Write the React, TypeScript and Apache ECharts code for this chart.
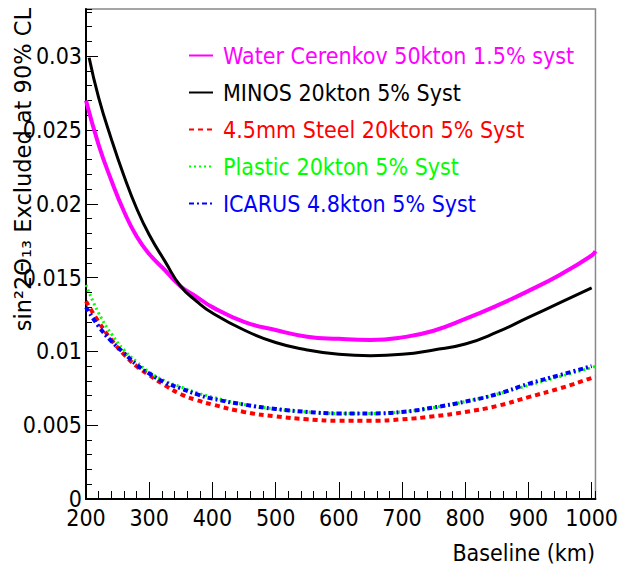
import React, { useEffect, useRef } from "react";
import * as echarts from "echarts";

// Baseline grid (km)
const baselineKm = [200, 220, 240, 260, 280, 300, 325, 350, 375, 400, 450, 500, 550, 600, 650, 700, 750, 800, 850, 900, 950, 1000];
const edgeKm = 1006;
const waterKm = [...baselineKm, edgeKm];
const minosKm = [205, ...baselineKm.slice(1)];
const steelKm = [...baselineKm, edgeKm];
const plasticKm = [...baselineKm, edgeKm];
const icarusKm = [...baselineKm];

const waterVals = [0.0270, 0.0240, 0.0216, 0.0195, 0.0178, 0.0166, 0.0155, 0.0144, 0.0137, 0.0130, 0.0120, 0.01145, 0.0110, 0.01085, 0.01078, 0.01095, 0.0114, 0.0122, 0.0131, 0.0141, 0.0152, 0.0165, 0.0168];
const minosVals = [0.0299, 0.0272, 0.0244, 0.0219, 0.0197, 0.0179, 0.0161, 0.0144, 0.0134, 0.0126, 0.01145, 0.0106, 0.0101, 0.0098, 0.0097, 0.0098, 0.0101, 0.0105, 0.0113, 0.0123, 0.0133, 0.0143];
const steelVals = [0.0134, 0.0120, 0.0108, 0.0098, 0.0090, 0.0084, 0.0077, 0.0071, 0.0067, 0.0064, 0.0059, 0.0056, 0.0054, 0.0053, 0.0053, 0.0054, 0.0056, 0.0059, 0.0063, 0.0069, 0.0075, 0.0082, 0.0083];
const plasticVals = [0.0145, 0.0126, 0.0112, 0.0101, 0.0093, 0.0086, 0.0080, 0.0076, 0.0072, 0.0069, 0.0064, 0.0061, 0.0059, 0.0058, 0.0058, 0.0059, 0.0062, 0.0066, 0.0071, 0.0077, 0.0083, 0.0089, 0.0090];
const icarusVals = [0.0130, 0.0117, 0.0107, 0.0099, 0.0091, 0.0085, 0.0079, 0.0075, 0.0071, 0.0068, 0.0064, 0.0061, 0.0059, 0.0058, 0.0058, 0.0059, 0.0062, 0.0066, 0.0071, 0.0078, 0.0084, 0.0090];

const seriesNames = [
  "Water Cerenkov 50kton 1.5% syst",
  "MINOS 20kton 5% Syst",
  "4.5mm Steel 20kton 5% Syst",
  "Plastic 20kton 5% Syst",
  "ICARUS 4.8kton 5% Syst",
];
const seriesColors = ["#ff00ff", "#000000", "#ff0000", "#00ff00", "#0000ff"];

const yTitle = "sin²2Θ₁₃ Excluded at 90% CL";
const xTitle = "Baseline (km)";

const NARROW = '"Liberation Sans Narrow", "DejaVu Sans Condensed", "Liberation Sans", sans-serif';
const WIDE = '"DejaVu Sans", "Liberation Sans", sans-serif';

function zip(xs: number[], ys: number[]) {
  return xs.map((x, i) => [x, ys[i]]);
}

export default function App() {
  const ref = useRef<HTMLDivElement>(null);
  useEffect(() => {
    document.body.style.margin = "0";
    if (!ref.current) return;
    const chart = echarts.init(ref.current, undefined, { renderer: "svg" });
    const grid = { left: 86, right: 25, top: 9, bottom: 68 };
    const commonLine = (i: number, width: number, type: any) => ({
      type: "line" as const,
      name: seriesNames[i],
      xAxisIndex: 0,
      yAxisIndex: 0,
      showSymbol: false,
      symbol: "none",
      smooth: 0.5,
      lineStyle: { color: seriesColors[i], width, type },
      itemStyle: { color: seriesColors[i] },
      z: 3 + i,
    });
    chart.setOption({
      animation: false,
      backgroundColor: "#ffffff",
      grid: { ...grid, show: true, borderColor: "#888888", borderWidth: 1.5, backgroundColor: "transparent" },
      legend: {
        orient: "vertical",
        left: 188,
        top: 44,
        padding: 0,
        itemWidth: 24,
        itemHeight: 14,
        itemGap: 14,
        itemStyle: { opacity: 0 },
        textStyle: { fontFamily: NARROW, fontSize: 23, padding: [0, 0, 0, 5] },
        data: seriesNames.map((n, i) => ({ name: n, textStyle: { color: seriesColors[i] } })),
      },
      xAxis: [
        {
          type: "value",
          min: 200,
          max: edgeKm,
          interval: 100,
          axisLine: { onZero: false, lineStyle: { color: "#000", width: 2 } },
          axisTick: { inside: true, length: 17, lineStyle: { color: "#000", width: 1 } },
          axisLabel: {
            showMaxLabel: false,
            margin: 10,
            color: "#000",
            fontSize: 23,
            lineHeight: 18,
            fontFamily: NARROW,
            formatter: (v: number) => String(Math.round(v)),
          },
          splitLine: { show: false },
        },
        {
          type: "value",
          min: 200,
          max: edgeKm,
          interval: 20,
          position: "bottom",
          axisLine: { show: false, onZero: false },
          axisTick: { inside: true, length: 8, lineStyle: { color: "#000", width: 1 } },
          axisLabel: { show: false },
          splitLine: { show: false },
        },
      ],
      yAxis: [
        {
          type: "value",
          min: 0,
          max: 0.0332,
          interval: 0.005,
          axisLine: { show: true, onZero: false, lineStyle: { color: "#000", width: 2 } },
          axisTick: { show: true, inside: true, length: 12, lineStyle: { color: "#000", width: 1 } },
          axisLabel: {
            showMaxLabel: false,
            margin: 4,
            color: "#000",
            fontSize: 23,
            lineHeight: 18,
            fontFamily: NARROW,
            formatter: (v: number) => String(+v.toFixed(4)),
          },
          splitLine: { show: false },
        },
        {
          type: "value",
          min: 0,
          max: 0.0332,
          interval: 0.001,
          position: "left",
          axisLine: { show: false, onZero: false },
          axisTick: { show: true, inside: true, length: 6, lineStyle: { color: "#000", width: 1 } },
          axisLabel: { show: false },
          splitLine: { show: false },
        },
      ],
      graphic: [
        {
          type: "text",
          x: 23,
          y: 8,
          rotation: Math.PI / 2,
          style: { text: yTitle, fontFamily: WIDE, fontSize: 22.5, fill: "#000", align: "right", verticalAlign: "middle" },
        },
        {
          type: "text",
          x: 595,
          y: 553,
          style: { text: xTitle, fontFamily: NARROW, fontSize: 23, fill: "#000", align: "right", verticalAlign: "middle" },
        },
      ],
      series: [
        { ...commonLine(0, 4, "solid"), data: zip(waterKm, waterVals) },
        { ...commonLine(1, 3, "solid"), data: zip(minosKm, minosVals) },
        { ...commonLine(2, 4, [5, 4]), data: zip(steelKm, steelVals) },
        { ...commonLine(3, 3, [2, 3]), data: zip(plasticKm, plasticVals) },
        { ...commonLine(4, 4, [5, 3, 2, 3]), data: zip(icarusKm, icarusVals) },
      ],
    });
    return () => chart.dispose();
  }, []);
  return <div ref={ref} style={{ width: 621, height: 567 }} />;
}
